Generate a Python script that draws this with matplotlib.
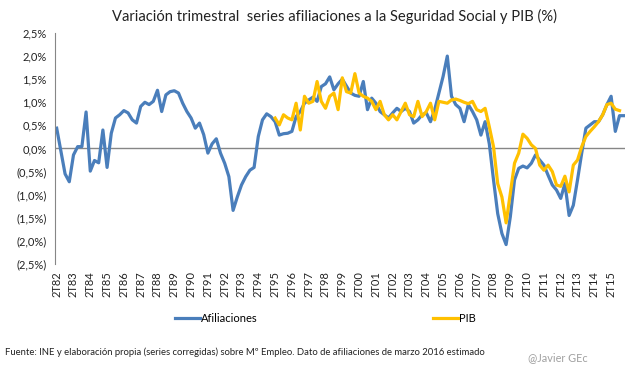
import matplotlib
matplotlib.use("Agg")
import matplotlib.pyplot as plt
import numpy as np

# Quarterly series from 2T82 to 1T16
afiliaciones = [
    0.44, -0.05, -0.55, -0.72, -0.14, 0.04, 0.04, 0.79, -0.49, -0.26,
    -0.31, 0.40, -0.41, 0.33, 0.66, 0.73, 0.82, 0.77, 0.62, 0.55,
    0.91, 1.00, 0.95, 1.02, 1.26, 0.80, 1.16, 1.23, 1.25, 1.20,
    0.98, 0.80, 0.66, 0.44, 0.55, 0.30, -0.10, 0.10, 0.21, -0.10,
    -0.32, -0.61, -1.34, -1.05, -0.79, -0.61, -0.47, -0.41, 0.26, 0.62,
    0.75, 0.69, 0.58, 0.29, 0.32, 0.33, 0.37, 0.69, 0.80, 0.98,
    1.05, 1.11, 1.02, 1.34, 1.40, 1.55, 1.27, 1.40, 1.50, 1.35,
    1.20, 1.15, 1.13, 1.45, 0.84, 1.09, 0.98, 0.80, 0.73, 0.66,
    0.77, 0.87, 0.80, 0.87, 0.80, 0.55, 0.62, 0.73, 0.77, 0.58,
    0.84, 1.20, 1.56, 2.00, 1.13, 0.95, 0.87, 0.58, 0.95, 0.80,
    0.62, 0.29, 0.58, 0.10, -0.68, -1.41, -1.84, -2.08, -1.48, -0.68,
    -0.43, -0.38, -0.42, -0.32, -0.14, -0.25, -0.36, -0.58, -0.79, -0.90,
    -1.08, -0.76, -1.45, -1.23, -0.68, -0.10, 0.44, 0.51, 0.58, 0.58,
    0.73, 0.95, 1.13, 0.37, 0.71, 0.71,
]

# PIB from 2T95 to 4T15
pib_start = 52
pib = [
    0.66, 0.51, 0.73, 0.66, 0.62, 0.98, 0.40, 1.13, 0.98, 1.02,
    1.45, 1.02, 0.87, 1.13, 1.20, 0.84, 1.53, 1.23, 1.20, 1.62,
    1.20, 1.13, 1.09, 1.02, 0.84, 1.02, 0.73, 0.62, 0.73, 0.62,
    0.80, 0.98, 0.73, 0.69, 1.02, 0.69, 0.80, 0.98, 0.62, 1.02,
    1.00, 0.98, 1.05, 1.07, 1.04, 1.00, 0.97, 1.02, 0.84, 0.80,
    0.87, 0.47, 0.04, -0.76, -1.05, -1.61, -0.97, -0.32, -0.10, 0.31,
    0.22, 0.08, 0.00, -0.36, -0.47, -0.36, -0.50, -0.79, -0.82, -0.60,
    -0.94, -0.36, -0.25, 0.04, 0.26, 0.37, 0.47, 0.58, 0.73, 0.95,
    0.98, 0.85, 0.82,
]

tick_labels = ["2T%02d" % (y % 100) for y in range(1982, 2016)]
y_ticks = [2.5, 2.0, 1.5, 1.0, 0.5, 0.0, -0.5, -1.0, -1.5, -2.0, -2.5]

plt.rcParams['font.family'] = ['Lato', 'DejaVu Sans']

fig = plt.figure(figsize=(6.41, 3.69), dpi=100)
ax = fig.add_axes([0.0858, 0.2846, 0.8892, 0.626])

x_af = np.arange(len(afiliaciones))
x_pib = np.arange(pib_start, pib_start + len(pib))

blue = "#4a7ebb"
yellow = "#ffc000"

ax.axhline(0, color="#868686", lw=1.0, zorder=1)
ax.plot(x_af, afiliaciones, color=blue, lw=2.3, solid_joinstyle="round", zorder=2)
ax.plot(x_pib, pib, color=yellow, lw=2.3, solid_joinstyle="round", zorder=3)

ax.set_xlim(-0.4, len(afiliaciones) - 1 + 0.3)
ax.set_ylim(-2.5, 2.5)

def fmt(v):
    s = ("%.1f%%" % abs(v)).replace(".", ",")
    return "(%s)" % s if v < 0 else s

ax.set_yticks(y_ticks)
ax.set_yticklabels([fmt(v) for v in y_ticks], fontsize=8, color="#222222")
ax.set_xticks(np.arange(0, len(tick_labels) * 4, 4))
ax.set_xticklabels(tick_labels, rotation=90, fontsize=8, color="#222222")

for s in ["top", "right", "bottom"]:
    ax.spines[s].set_visible(False)
ax.spines["left"].set_color("#868686")
ax.tick_params(axis="x", length=0, pad=5)
ax.tick_params(axis="y", length=0, pad=6)

fig.text(0.522, 0.955, "Variación trimestral  series afiliaciones a la Seguridad Social y PIB (%)",
         ha="center", va="center", fontsize=10.6, color="#222222")

from matplotlib.lines import Line2D
h1 = Line2D([], [], color=blue, lw=2.3)
h2 = Line2D([], [], color=yellow, lw=2.3)
leg1 = fig.legend([h1], ["Afiliaciones"], loc="center left", bbox_to_anchor=(0.258, 0.138),
                  frameon=False, fontsize=8, handlelength=2.2, handletextpad=0.1)
leg2 = fig.legend([h2], ["PIB"], loc="center left", bbox_to_anchor=(0.66, 0.138),
                  frameon=False, fontsize=8, handlelength=2.2, handletextpad=0.1)

fig.text(0.008, 0.046, "Fuente: INE y elaboración propia (series corregidas) sobre Mº Empleo. Dato de afiliaciones de marzo 2016 estimado",
         ha="left", va="center", fontsize=6.8, color="#222222")
fig.text(0.824, 0.032, "@Javier GEc", ha="left", va="center", fontsize=7.8, color="#a0a0a0")

fig.savefig("out.png", dpi=100)
